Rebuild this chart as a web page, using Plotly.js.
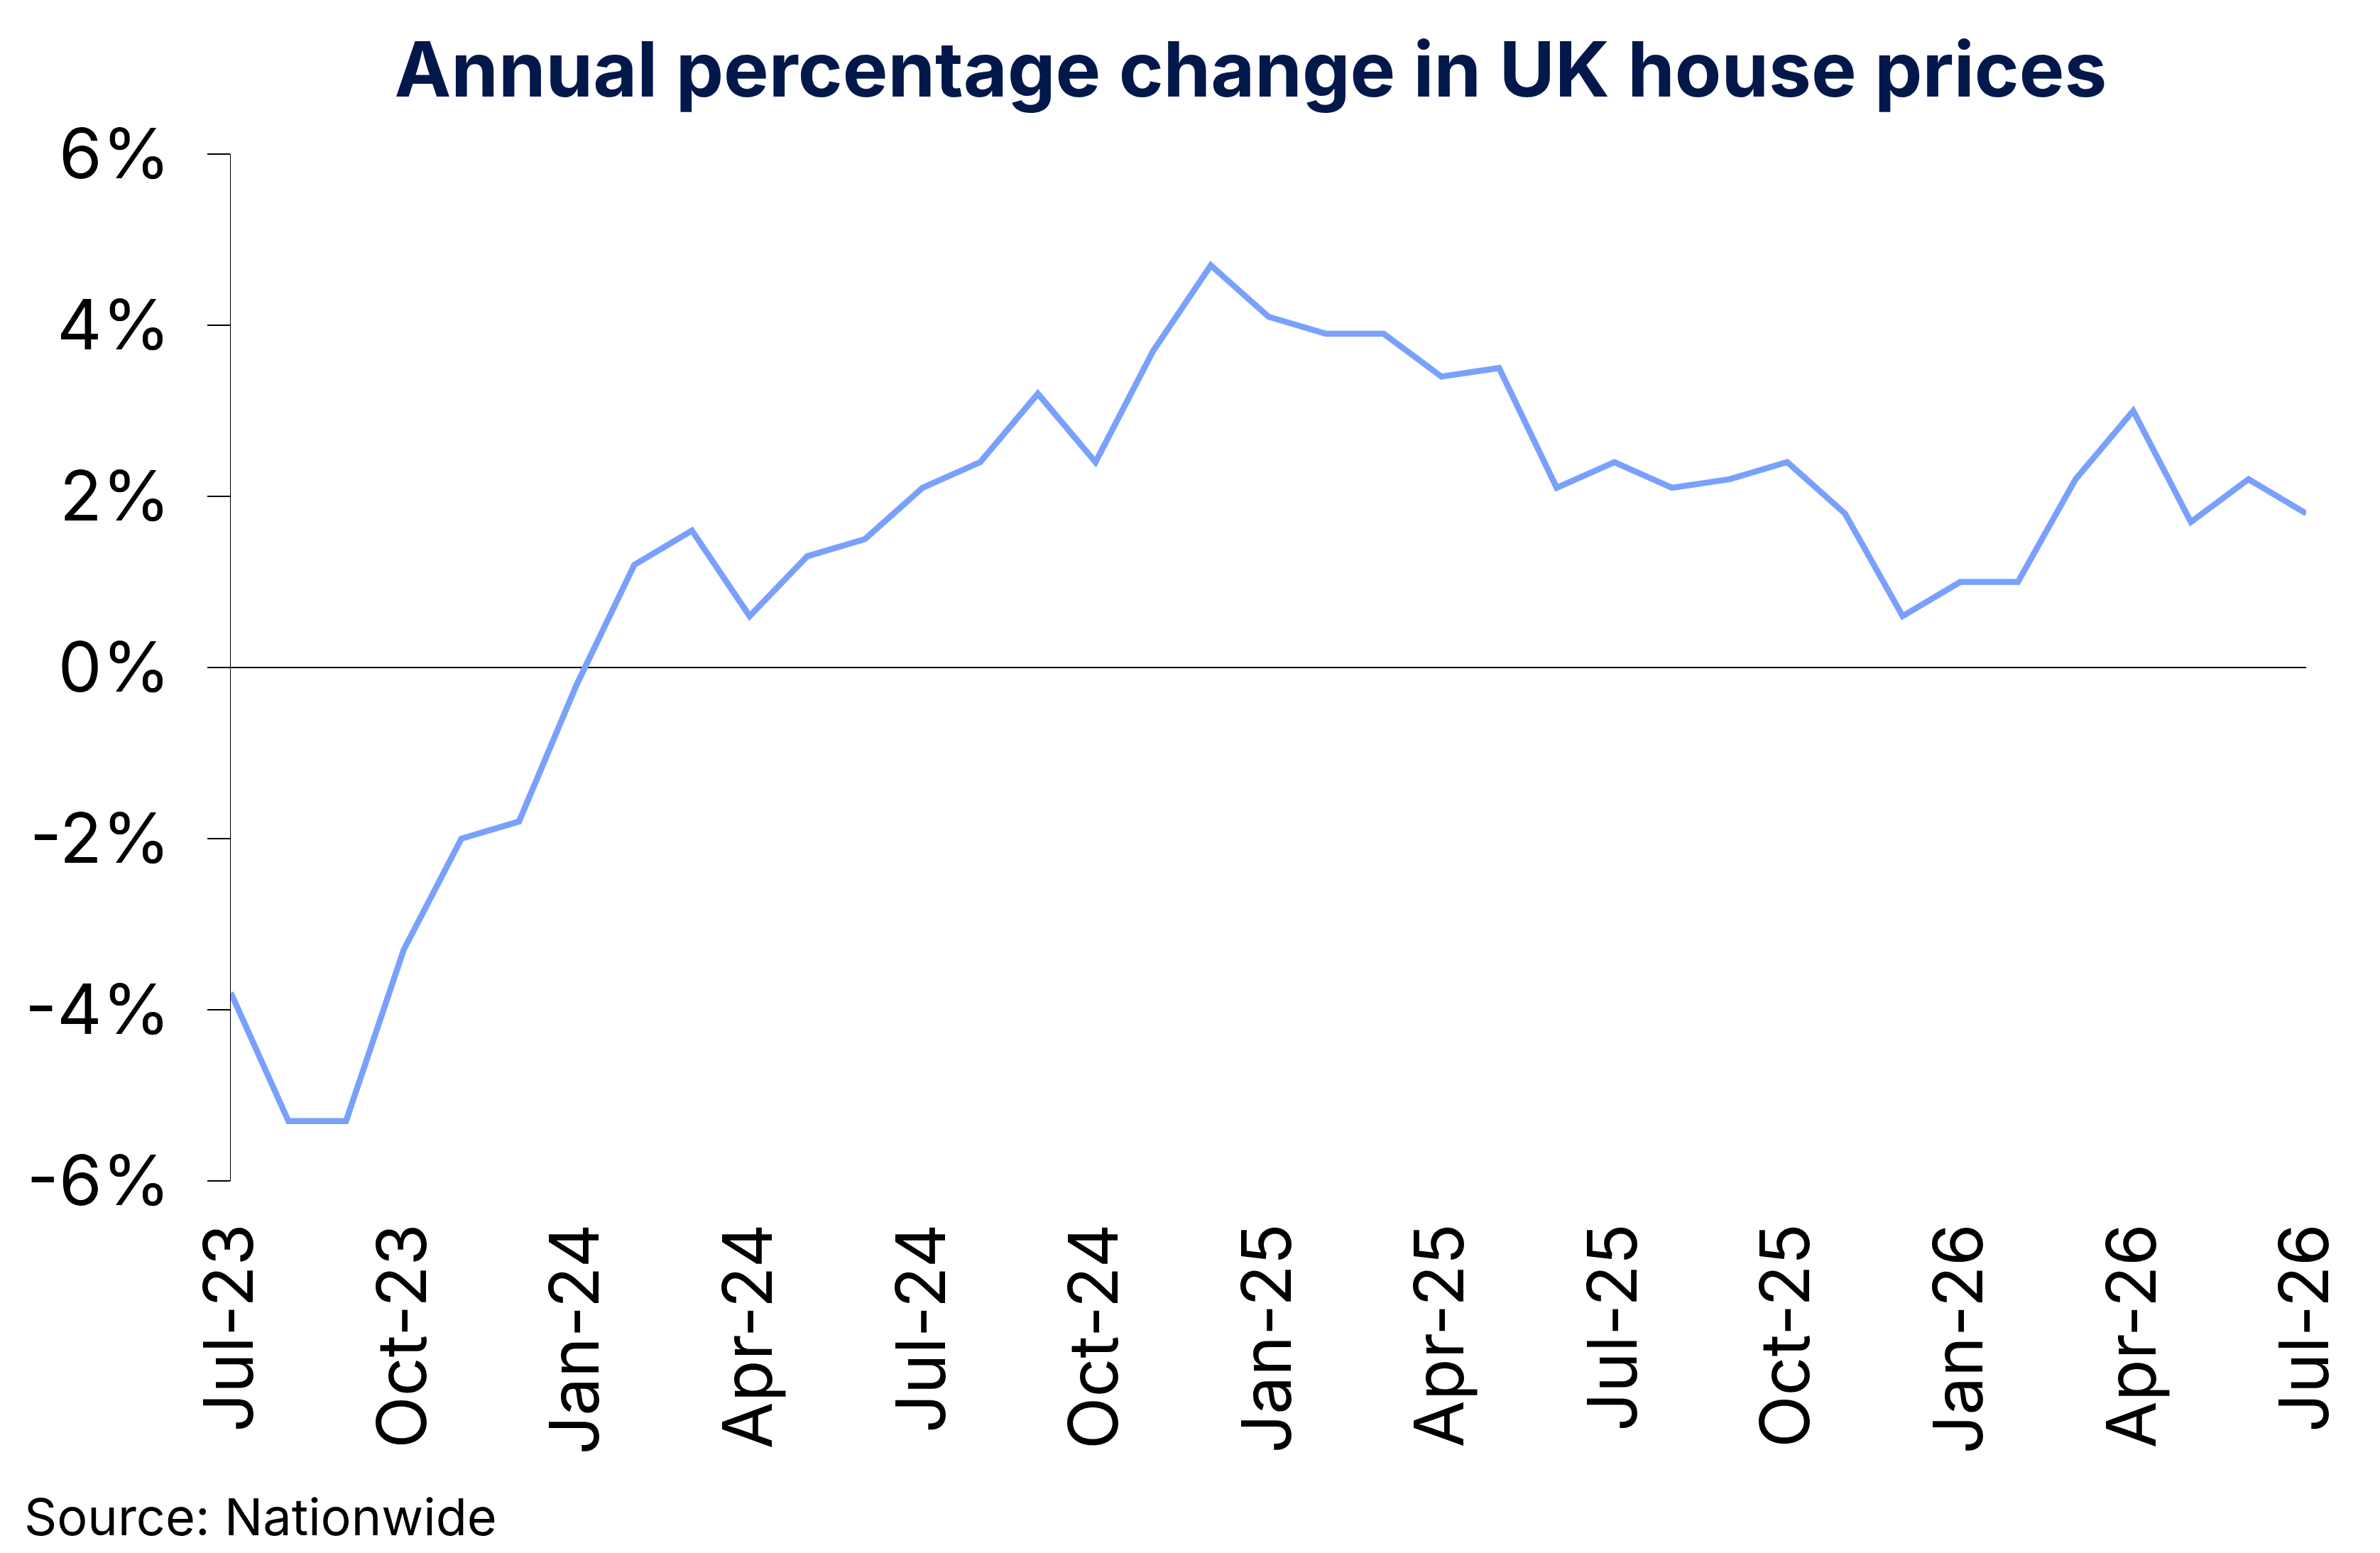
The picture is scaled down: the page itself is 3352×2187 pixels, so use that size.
<!DOCTYPE html>
<html>
<head>
<meta charset="utf-8">
<script src="https://cdn.plot.ly/plotly-3.0.1.min.js"></script>
<style>
  html, body { margin: 0; padding: 0; background: #fff; }
  #chart { width: 3352px; height: 2187px; }
</style>
</head>
<body>
<div id="chart"></div>
<script>
// monthly annual % change, Jul-23 .. Jul-26
var months = ['Jul-23','Aug-23','Sep-23','Oct-23','Nov-23','Dec-23',
              'Jan-24','Feb-24','Mar-24','Apr-24','May-24','Jun-24',
              'Jul-24','Aug-24','Sep-24','Oct-24','Nov-24','Dec-24',
              'Jan-25','Feb-25','Mar-25','Apr-25','May-25','Jun-25',
              'Jul-25','Aug-25','Sep-25','Oct-25','Nov-25','Dec-25',
              'Jan-26','Feb-26','Mar-26','Apr-26','May-26','Jun-26',
              'Jul-26'];
var change = [-3.8, -5.3, -5.3, -3.3, -2.0, -1.8,
              -0.2, 1.2, 1.6, 0.6, 1.3, 1.5,
              2.1, 2.4, 3.2, 2.4, 3.7, 4.7,
              4.1, 3.9, 3.9, 3.4, 3.5, 2.1,
              2.4, 2.1, 2.2, 2.4, 1.8, 0.6,
              1.0, 1.0, 2.2, 3.0, 1.7, 2.2,
              1.8];
var xTicks = ['Jul-23','Oct-23','Jan-24','Apr-24','Jul-24','Oct-24','Jan-25',
              'Apr-25','Jul-25','Oct-25','Jan-26','Apr-26','Jul-26'];
var yTicks = [-6, -4, -2, 0, 2, 4, 6];
var yTickText = ['-6%','-4%','-2%','0%','2%','4%','6%'];

var trace0 = {
    x: months,
    y: change,
    mode: 'lines',
    type: 'scatter',
    line: {color: '#79a1fc', width: 8.5},
    hoverinfo: 'skip'
};

var font = 'Inter, Lato, sans-serif';

var layout0 = {
    width: 3352,
    height: 2187,
    paper_bgcolor: '#ffffff',
    plot_bgcolor: '#ffffff',
    showlegend: false,
    margin: {t: 217, r: 104, l: 325, b: 524, pad: 0},
    title: {
        text: 'Annual percentage change in UK house prices',
        font: {family: font, size: 107, color: '#02184a', weight: 'bold'},
        xref: 'container', x: 0.5255, xanchor: 'center',
        yref: 'container', y: 0.955, yanchor: 'middle'
    },
    xaxis: {
        type: 'category',
        range: [0, 36],
        tickmode: 'array',
        tickvals: xTicks,
        ticktext: xTicks,
        tickangle: -90,
        ticks: '',
        showline: false,
        showgrid: false,
        zeroline: false,
        ticklabelstandoff: 40,
        tickfont: {family: font, size: 96, color: '#000000'}
    },
    yaxis: {
        range: [-6, 6],
        tickmode: 'array',
        tickvals: yTicks,
        ticktext: yTickText,
        ticks: 'outside',
        ticklen: 32,
        tickwidth: 1.5,
        tickcolor: '#000000',
        showline: true,
        linecolor: '#000000',
        linewidth: 1.5,
        showgrid: false,
        zeroline: true,
        zerolinecolor: '#000000',
        zerolinewidth: 1.5,
        ticklabelstandoff: 32,
        tickfont: {family: font, size: 98, color: '#000000'}
    },
    annotations: [{
        text: 'Source: Nationwide',
        xref: 'paper', yref: 'paper',
        x: -0.1002, y: -0.327,
        xanchor: 'left', yanchor: 'middle',
        showarrow: false,
        font: {family: font, size: 72, color: '#000000'}
    }]
};

Plotly.newPlot('chart', [trace0], layout0, {displayModeBar: false, staticPlot: true});
</script>
</body>
</html>
